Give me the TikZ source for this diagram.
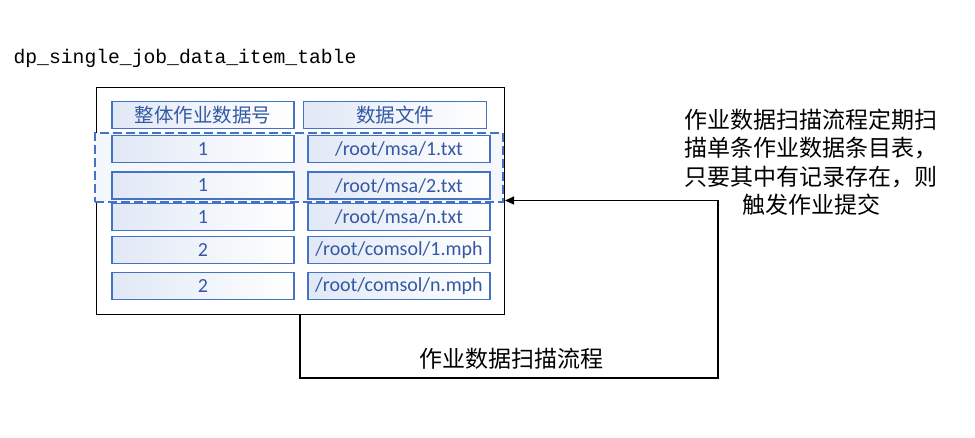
\documentclass[tikz,border=0pt]{standalone}
\usepackage{fontspec}
\setmainfont{Carlito}
\setmonofont{Liberation Mono}
\newfontfamily\cjk{Noto Sans CJK SC}
\usetikzlibrary{positioning, arrows.meta}

\definecolor{cellblue}{HTML}{4472C4}
\definecolor{textblue}{HTML}{3558A5}

\tikzset{
  cell/.style={draw=cellblue, line width=1.3pt, left color=cellblue!16, right color=white,
    minimum width=182pt, minimum height=27pt, inner sep=0pt, text=textblue,
    font=\fontsize{20}{20}\selectfont},
  headcell/.style={cell, font=\cjk\fontsize{19.5}{19.5}\selectfont},
  tablebox/.style={draw, line width=1pt, minimum width=408pt, minimum height=227pt, inner sep=0pt},
  scanbox/.style={draw=cellblue, dashed, dash pattern=on 9pt off 4pt, line width=1.1pt,
    fill=cellblue!6, minimum width=408pt, minimum height=69pt, inner sep=0pt},
  label/.style={font=\cjk\fontsize{23}{28.5}\selectfont, align=center},
  flow/.style={draw, line width=1.1pt, -{Triangle[length=9pt, width=8pt]}}
}

\begin{document}
\begin{tikzpicture}[x=1pt, y=-1pt]
\useasboundingbox (0,0) rectangle (975,437);

\node[font=\ttfamily\fontsize{19.7}{20}\selectfont] (title) at (185,58) {dp\_single\_job\_data\_item\_table};

\node[tablebox] (table) at (300,200.5) {};
\node[scanbox] (scan) at (299,167.5) {};

\node[headcell] (h1) at (203,115) {整体作业数据号};
\node[headcell, minimum width=183pt] (h2) at (395,115) {数据文件};

\node[cell] (id1) at (203,149) {1};
\node[cell] (id2) at (203,185.5) {1};
\node[cell] (id3) at (203,217) {1};
\node[cell] (id4) at (203,250) {2};
\node[cell] (id5) at (203,286) {2};

\node[cell] (f1) at (399,149) {/root/msa/1.txt};
\node[cell] (f2) at (399,185.5) {/root/msa/2.txt};
\node[cell] (f3) at (399,217) {/root/msa/n.txt};
\node[cell] (f4) at (399,250) {/root/comsol/1.mph};
\node[cell] (f5) at (399,286) {/root/comsol/n.mph};

\node[label] (note) at (811,162) {作业数据扫描流程定期扫\\描单条作业数据条目表，\\只要其中有记录存在，则\\触发作业提交};
\node[label] (scanner) at (511,359) {作业数据扫描流程};

\coordinate (turn) at (718,378);
\coordinate (hit) at (505,200.5);
\draw[flow] (table.south) |- (turn) |- (hit);
\end{tikzpicture}
\end{document}
